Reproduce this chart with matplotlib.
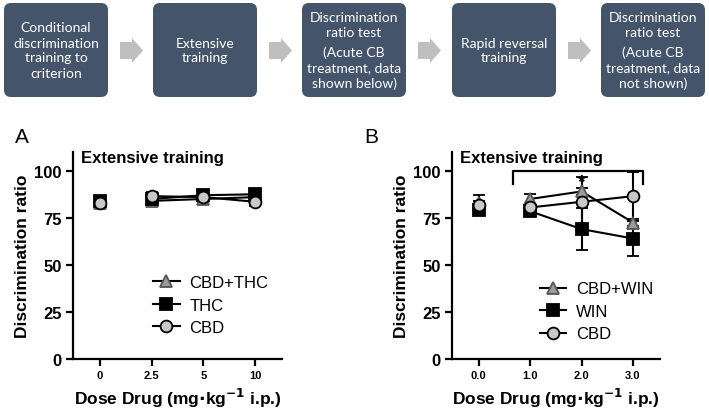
import matplotlib
matplotlib.use("Agg")
import matplotlib.pyplot as plt
from matplotlib.patches import FancyBboxPatch, Polygon
from matplotlib.lines import Line2D
import numpy as np

plt.rcParams['font.family'] = ['Liberation Sans', 'DejaVu Sans']

# flowchart steps
steps = [
    "Conditional\ndiscrimination\ntraining to\ncriterion",
    "Extensive\ntraining",
    "Discrimination\nratio test\n\n(Acute CB\ntreatment, data\nshown below)",
    "Rapid reversal\ntraining",
    "Discrimination\nratio test\n\n(Acute CB\ntreatment, data\nnot shown)",
]

# panel A
doses_a = ["0", "2.5", "5", "10"]
cbd_thc_a = [83, 84, 85, 86]
cbd_thc_a_err = [2, 2, 2, 2]
thc_a = [84, 85, 87, 87.5]
thc_a_err = [2.5, 2, 2, 2]
cbd_a = [83, 86.5, 86, 83.5]
cbd_a_err = [2, 2, 2, 2]

# panel B
doses_b = ["0.0", "1.0", "2.0", "3.0"]
cbd_win_b = [83, 85, 89, 72.5]
cbd_win_b_err = [4, 2.5, 2, 2]
win_b = [79, 78.5, 69, 64]
win_b_err = [2, 1.5, 11, 9.5]
cbd_b = [82, 80.5, 83.5, 86.5]
cbd_b_err = [2, 1.5, 13, 13]

fig = plt.figure(figsize=(7.09, 4.10), dpi=100)

# ---- flowchart ----
top = fig.add_axes([0, 0, 1, 1])
top.set_xlim(0, 709)
top.set_ylim(410, 0)
top.axis('off')
box_x = [4, 153, 302, 452, 601]
box_w = 104
box_col = '#44546A'
tkw = dict(ha='center', va='center', color='white', fontsize=10, family='Lato', linespacing=1.3)
for i, txt in enumerate(steps):
    top.add_patch(FancyBboxPatch((box_x[i] + 5, 9), box_w - 10, 84,
                                 boxstyle="round,pad=5,rounding_size=7",
                                 fc=box_col, ec='none'))
    cx = box_x[i] + box_w / 2
    if "\n\n" in txt:
        head, tail = txt.split("\n\n")
        top.text(cx, 25.5, head, **tkw)
        top.text(cx, 68, tail, **tkw)
    else:
        top.text(cx, 51, txt, **tkw)
    if i < 4:
        ax0 = box_x[i] + box_w + 12
        top.add_patch(Polygon([(ax0, 43), (ax0 + 12, 43), (ax0 + 12, 39), (ax0 + 23, 51.5),
                               (ax0 + 12, 64), (ax0 + 12, 60), (ax0, 60)],
                              closed=True, fc='#BFBFBF', ec='none'))


def panel(ax, labels, series, legend_loc):
    x = np.arange(len(labels))
    handles = []
    for name, vals, err, mk, fc, ms in series:
        ec = 'black' if mk != '^' else '#555555'
        style = dict(color='black', marker=mk, markersize=ms, markerfacecolor=fc,
                     markeredgecolor=ec, markeredgewidth=1.3, capsize=4, elinewidth=1.5)
        # vehicle point stands alone, doses are joined
        ax.errorbar(x[:1], vals[:1], yerr=err[:1], linestyle='none', **style)
        ax.errorbar(x[1:], vals[1:], yerr=err[1:], linewidth=1.5, **style)
        handles.append(Line2D([], [], color='black', lw=1.5, marker=mk, markersize=ms,
                              markerfacecolor=fc, markeredgecolor=ec, markeredgewidth=1.3,
                              label=name))
    ax.set_xlim(-0.52, 3.52)
    ax.set_ylim(0, 110)
    ax.set_yticks([0, 25, 50, 75, 100])
    ax.set_xticks(x)
    ax.set_xticklabels(labels, fontsize=8, fontweight='bold')
    for t in ax.get_yticklabels():
        t.set_fontsize(12)
        t.set_fontweight('bold')
    ax.spines['top'].set_visible(False)
    ax.spines['right'].set_visible(False)
    ax.spines['left'].set_linewidth(1.6)
    ax.spines['bottom'].set_linewidth(1.6)
    ax.tick_params(width=1.6, length=5, pad=3)
    ax.set_ylabel("Discrimination ratio", fontsize=12.5, fontweight='bold', labelpad=3)
    ax.set_xlabel("Dose Drug (mg$\\mathbf{\\cdot}$kg$^{\\mathbf{-1}}$ i.p.)", fontsize=12.5,
                  fontweight='bold', labelpad=4)
    ax.text(0.04, 0.975, "Extensive training", transform=ax.transAxes, fontsize=12,
            fontweight='bold', va='center', ha='left')
    ax.legend(handles=handles, loc='center left', bbox_to_anchor=legend_loc, frameon=False,
              fontsize=12, handlelength=1.6, handletextpad=0.6, labelspacing=0.45)


axA = fig.add_axes([0.103, 0.122, 0.295, 0.505])
panel(axA, doses_a, [
    ("CBD+THC", cbd_thc_a, cbd_thc_a_err, '^', '#9A9A9A', 8),
    ("THC", thc_a, thc_a_err, 's', 'black', 9),
    ("CBD", cbd_a, cbd_a_err, 'o', '#C8C8C8', 8.5),
], (0.31, 0.26))

axB = fig.add_axes([0.6375, 0.122, 0.293, 0.505])
panel(axB, doses_b, [
    ("CBD+WIN", cbd_win_b, cbd_win_b_err, '^', '#9A9A9A', 8),
    ("WIN", win_b, win_b_err, 's', 'black', 9),
    ("CBD", cbd_b, cbd_b_err, 'o', '#C8C8C8', 8.5),
], (0.35, 0.23))

# significance bracket
axB.plot([0.67, 0.67, 3.19, 3.19], [93, 100, 100, 93], color='black', lw=1.6, clip_on=False)
axB.text(2.0, 94.5, "*", ha='center', va='center', fontsize=14, fontweight='bold')

fig.text(0.031, 0.665, "A", fontsize=15, ha='center', va='center')
fig.text(0.523, 0.665, "B", fontsize=15, ha='center', va='center')

fig.savefig("out.png", dpi=100)
